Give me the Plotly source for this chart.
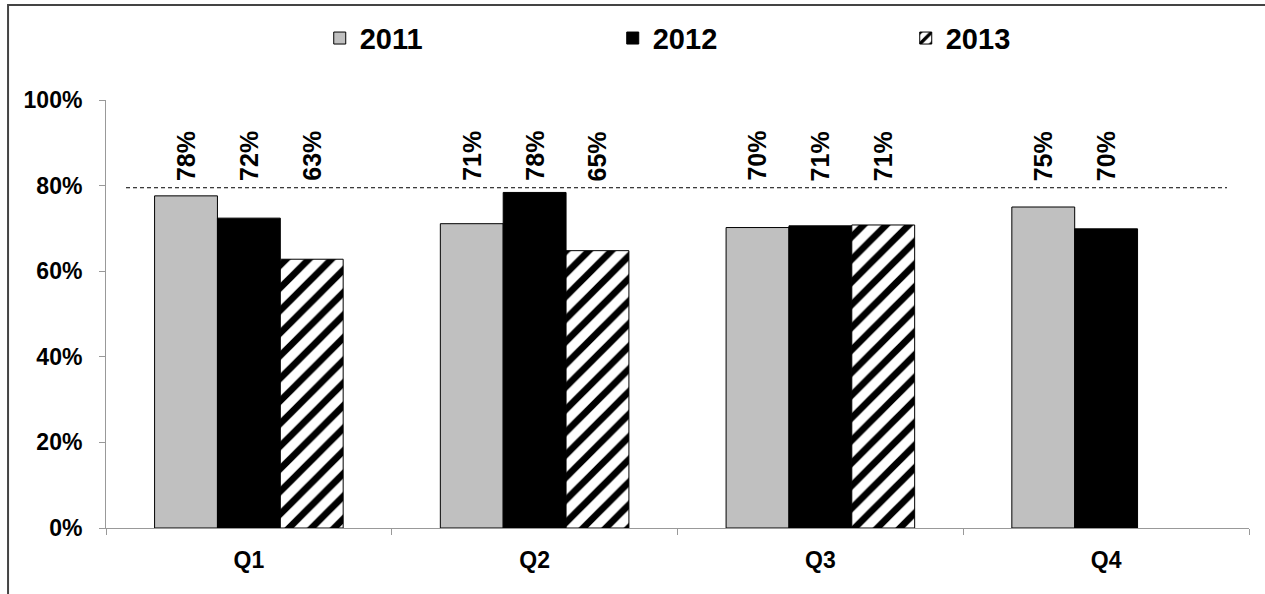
import plotly.graph_objects as go

# Quarterly shares per year
quarters = ["Q1", "Q2", "Q3", "Q4"]
years = ["2011", "2012", "2013"]
share_2011 = [0.776, 0.711, 0.702, 0.750]
share_2012 = [0.724, 0.784, 0.706, 0.699]
share_2013 = [0.628, 0.648, 0.708, None]
target = 0.795
y_ticks = [0, 0.2, 0.4, 0.6, 0.8, 1.0]

series = [share_2011, share_2012, share_2013]

FONT = "Liberation Sans, Arial, sans-serif"
BARGAP = 0.34
bar_w = (1 - BARGAP) / len(series)

fig = go.Figure()

fig.add_trace(go.Bar(
    name="<b>2011</b>", x=quarters, y=share_2011,
    marker=dict(color="#C0C0C0", line=dict(color="black", width=1)),
))
fig.add_trace(go.Bar(
    name="<b>2012</b>", x=quarters, y=share_2012,
    marker=dict(color="black", line=dict(color="black", width=1)),
))
fig.add_trace(go.Bar(
    name="<b>2013</b>", x=quarters, y=share_2013,
    marker=dict(
        color="white",
        line=dict(color="black", width=1),
        pattern=dict(shape="/", fgcolor="black", bgcolor="white", fgopacity=1,
                     fillmode="replace", size=16, solidity=0.42),
    ),
))

# Value labels, rotated, all at one height above the bars
annotations = []
for k, vals in enumerate(series):
    for i, v in enumerate(vals):
        if v is None:
            continue
        annotations.append(dict(
            x=i + (k - 1) * bar_w, y=0.806, xref="x", yref="y",
            text=f"<b>{v * 100:.0f}%</b>", textangle=-90,
            showarrow=False, xanchor="center", yanchor="bottom",
            font=dict(family=FONT, size=25, color="black"),
        ))

shapes = [
    # target line
    dict(type="line", xref="x", yref="y", x0=-0.43, x1=3.423, y0=target, y1=target,
         line=dict(color="black", width=1, dash="4px,3px")),
    # chart frame
    dict(type="rect", xref="paper", yref="paper", x0=-0.0857, x1=1.03, y0=-0.2, y1=1.222,
         line=dict(color="#444444", width=2), fillcolor="rgba(0,0,0,0)", layer="below"),
]

fig.update_layout(
    width=1265, height=594,
    margin=dict(l=106, r=16, t=100, b=66, autoexpand=False),
    paper_bgcolor="white", plot_bgcolor="white",
    barmode="group", bargap=BARGAP, bargroupgap=0,
    font=dict(family=FONT, color="black"),
    showlegend=True,
    legend=dict(
        orientation="h", x=0.187, y=1.204, xanchor="left", yanchor="top",
        entrywidth=248, entrywidthmode="pixels",
        font=dict(family=FONT, size=29, color="black"),
        bgcolor="rgba(0,0,0,0)", itemclick=False,
    ),
    xaxis=dict(
        type="category", tickson="boundaries", ticks="outside", ticklen=6,
        tickcolor="#999999", showline=True, linecolor="#999999", linewidth=1,
        tickfont=dict(family=FONT, size=23, color="black"), ticklabelstandoff=11,
        tickvals=quarters, ticktext=[f"<b>{q}</b>" for q in quarters],
        showgrid=False, zeroline=False,
    ),
    yaxis=dict(
        range=[0, 1], tickvals=y_ticks,
        ticktext=[f"<b>{t * 100:.0f}%</b>" for t in y_ticks],
        ticks="outside", ticklen=6, tickcolor="#999999",
        showline=True, linecolor="#999999", linewidth=1,
        tickfont=dict(family=FONT, size=23, color="black"), ticklabelstandoff=12,
        showgrid=False, zeroline=False,
    ),
    annotations=annotations,
    shapes=shapes,
)

fig.write_html("out.html")
